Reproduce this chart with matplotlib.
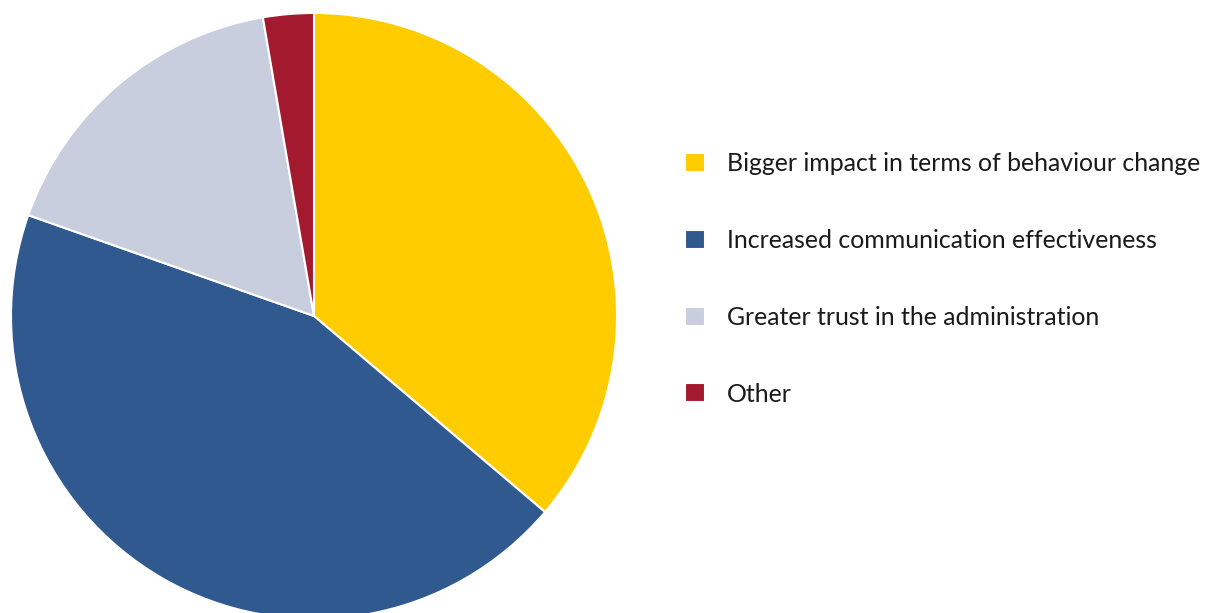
import matplotlib.pyplot as plt

plt.rcParams['font.family'] = ['Lato', 'DejaVu Sans']

labels = ['Bigger impact in terms of behaviour change',
          'Increased communication effectiveness',
          'Greater trust in the administration',
          'Other']
shares = [36.2, 44.2, 16.9, 2.7]
colors = ['#FFCC00', '#30598F', '#C8CEDD', '#A3192E']

fig = plt.figure(figsize=(12.05, 6.13), dpi=100)
ax = fig.add_axes([11 / 1205, -6 / 613, 606 / 1205, 606 / 613])

wedges, _ = ax.pie(shares, colors=colors, startangle=90, counterclock=False,
                   radius=1.0, wedgeprops=dict(edgecolor='white', linewidth=1.5))
ax.set_xlim(-1.0, 1.0)
ax.set_ylim(-1.0, 1.0)
ax.set_aspect('equal')
ax.axis('off')

fig.legend(wedges, labels, loc='center left',
           bbox_to_anchor=(685 / 1205, 1 - 279 / 613),
           frameon=False, fontsize=17.9, labelcolor='#1a1a1a',
           handlelength=0.8, handleheight=0.8, handletextpad=0.88,
           labelspacing=2.16, borderpad=0, borderaxespad=0)

fig.savefig('out.png', dpi=100)
